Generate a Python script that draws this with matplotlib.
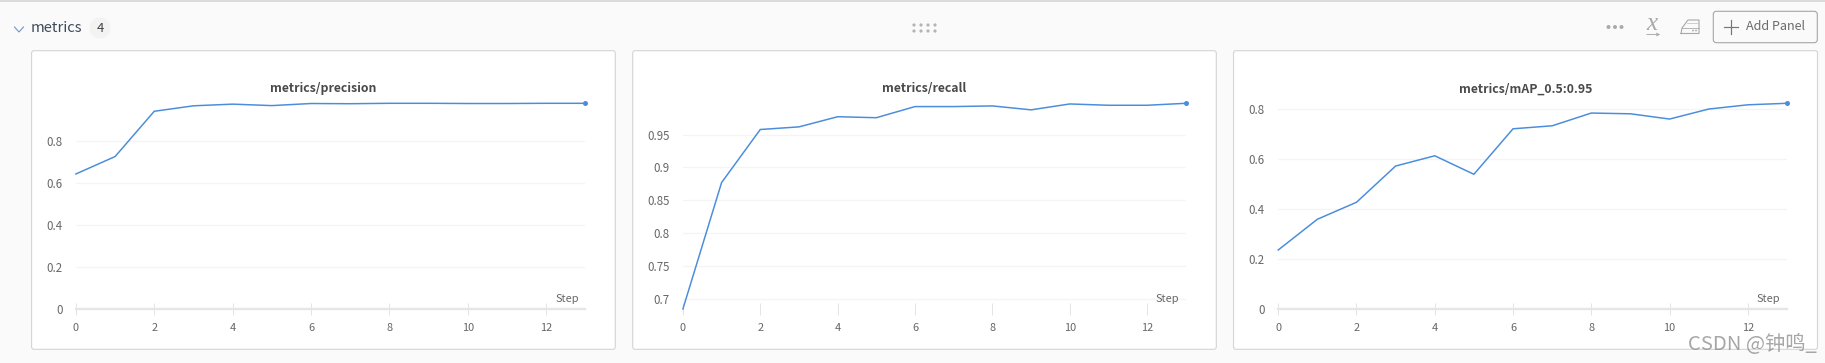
import matplotlib
matplotlib.use("Agg")
import matplotlib.pyplot as plt
from matplotlib.patches import FancyBboxPatch, Circle, Rectangle

plt.rcParams['font.family'] = ['Noto Sans CJK SC', 'DejaVu Sans']

steps = list(range(14))
xticks = [0, 2, 4, 6, 8, 10, 12]

titles = ["metrics/precision", "metrics/recall", "metrics/mAP_0.5:0.95"]
precision = [0.644, 0.727, 0.943, 0.969, 0.977, 0.970, 0.980, 0.979, 0.981, 0.981, 0.980, 0.980, 0.981, 0.981]
recall = [0.684, 0.877, 0.958, 0.962, 0.9775, 0.976, 0.993, 0.993, 0.994, 0.988, 0.997, 0.995, 0.995, 0.998]
map_vals = [0.236, 0.359, 0.427, 0.572, 0.613, 0.539, 0.721, 0.733, 0.784, 0.781, 0.760, 0.800, 0.817, 0.823]
series = [precision, recall, map_vals]
yticks = [[0, 0.2, 0.4, 0.6, 0.8],
          [0.7, 0.75, 0.8, 0.85, 0.9, 0.95],
          [0, 0.2, 0.4, 0.6, 0.8]]
ylabels = [["0", "0.2", "0.4", "0.6", "0.8"],
           ["0.7", "0.75", "0.8", "0.85", "0.9", "0.95"],
           ["0", "0.2", "0.4", "0.6", "0.8"]]

W, H = 1825, 363
BG = "#fafafa"
BLUE = "#4a8ddc"
PX = 0.72  # points per pixel at dpi 100

fig = plt.figure(figsize=(W / 100, H / 100), dpi=100, facecolor=BG)

# page chrome in pixel coordinates
bg = fig.add_axes([0, 0, 1, 1])
bg.set_xlim(0, W)
bg.set_ylim(H, 0)
bg.axis("off")
bg.plot([0, W], [1, 1], color="#d2d2d2", lw=1.5 * PX)

cards = [(31.6, 615.3), (632.7, 1216.3), (1233.5, 1817.5)]
card_top, card_bot = 50.7, 349.3
for l, r in cards:
    bg.add_patch(FancyBboxPatch((l, card_top), r - l, card_bot - card_top,
                                boxstyle="round,pad=0,rounding_size=2.5",
                                fc="white", ec="#d4d4d4", lw=1.1 * PX))

# header left
bg.plot([14.5, 19, 23.5], [27, 32, 27], color="#6f93cf", lw=1.1 * PX)
bg.text(31, 27.5, "metrics", fontsize=14.8 * PX, color="#3c4a5c", va="center", ha="left")
bg.add_patch(Circle((100, 28), 10.5, fc="#f3f3f3", ec="none"))
bg.text(100, 28, "4", fontsize=13 * PX, color="#444444", va="center", ha="center")

# drag handle
for hx in (914, 921, 928, 935):
    for hy in (25, 31):
        bg.add_patch(Circle((hx, hy), 1.6, fc="#b4b4b4", ec="none"))

# toolbar
for dx in (1608.5, 1615, 1621.5):
    bg.add_patch(Circle((dx, 27), 2.0, fc="#aaaaaa", ec="none"))
bg.text(1652, 24, "x", fontsize=25 * PX, style="italic", family="Liberation Serif",
        color="#a8a8a8", ha="center", va="center")
bg.annotate("", xy=(1663, 34.5), xytext=(1644, 34.5),
            arrowprops=dict(arrowstyle="->", color="#a8a8a8", lw=0.9 * PX, mutation_scale=5))
bg.plot([1681, 1682, 1688, 1699, 1699, 1681],
        [33.5, 28, 20, 20, 33.5, 33.5], color="#a8a8a8", lw=1.1 * PX)
bg.plot([1682, 1699], [28, 28], color="#a8a8a8", lw=0.8 * PX)
bg.plot([1687, 1699], [23, 23], color="#c4c4c4", lw=0.8 * PX)
for dx in (1693, 1696):
    bg.add_patch(Circle((dx, 30.5), 0.9, fc="#a8a8a8", ec="none"))

bg.add_patch(FancyBboxPatch((1713.3, 11.3), 104, 31.4,
                            boxstyle="round,pad=0,rounding_size=3",
                            fc=BG, ec="#a6a6a6", lw=1.1 * PX))
bg.plot([1724.5, 1738.5], [27, 27], color="#777777", lw=1.2 * PX)
bg.plot([1731.5, 1731.5], [20, 34], color="#777777", lw=1.2 * PX)
bg.text(1746.5, 27, "Add Panel", fontsize=12.6 * PX, color="#6b6b6b", va="center", ha="left")

# chart panels
ax_px = [(75.9, 585.2), (682.9, 1185.8), (1278.2, 1787.0)]
ax_top, ax_bot = 103.3, 309.0
for i, (x0, x1) in enumerate(ax_px):
    ax = fig.add_axes([x0 / W, 1 - ax_bot / H, (x1 - x0) / W, (ax_bot - ax_top) / H])
    ax.patch.set_alpha(0)
    vals = series[i]
    ax.plot(steps, vals, color=BLUE, lw=1.5 * PX, clip_on=False, zorder=3, solid_joinstyle="miter")
    ax.plot(steps[-1:], vals[-1:], "o", color=BLUE, ms=5 * PX, mew=0, clip_on=False, zorder=4)
    ax.set_xlim(0, 13)
    if i == 1:
        ax.set_ylim(vals[0], vals[-1])
    else:
        ax.set_ylim(0, vals[-1])
    ax.set_xticks(xticks)
    ax.set_xticklabels([str(t) for t in xticks])
    ax.set_yticks(yticks[i])
    ax.set_yticklabels(ylabels[i])
    ax.tick_params(axis="x", direction="inout", length=11.4 * PX, width=1.0 * PX, color="#e4e4e4",
                   labelsize=11 * PX, labelcolor="#666666", pad=8.5 * PX)
    ax.tick_params(axis="y", length=0, labelsize=11.5 * PX, labelcolor="#666666", pad=13.5 * PX)
    for s in ("top", "left", "right"):
        ax.spines[s].set_visible(False)
    if i == 1:
        ax.spines["bottom"].set_visible(False)
    else:
        ax.spines["bottom"].set_color("#e6e6e6")
        ax.spines["bottom"].set_linewidth(2.4 * PX)
    ax.set_axisbelow(True)
    ax.grid(False)
    for t in yticks[i]:
        if t != 0:
            ax.axhline(t, color="#f4f4f4", lw=1.2 * PX, zorder=0)
    cx = (cards[i][0] + cards[i][1]) / 2
    ax.set_title(titles[i], x=(cx - x0) / (x1 - x0), fontsize=12.3 * PX, color="#4a4a4a",
                 fontweight="bold", pad=14.5 * PX, va="center")
    ax.annotate("Step", xy=(1, 0), xycoords="axes fraction", xytext=(-6.5 * PX, 9.5 * PX),
                textcoords="offset points", ha="right", va="center",
                fontsize=11 * PX, color="#666666")

# watermark
fig.text(1688 / W, 1 - 344 / H, "CSDN @钟鸣_", fontsize=20.3 * PX, color="#8a8a8a", alpha=0.75,
         ha="left", va="center")

fig.savefig("out.png", dpi=100, facecolor=BG)
